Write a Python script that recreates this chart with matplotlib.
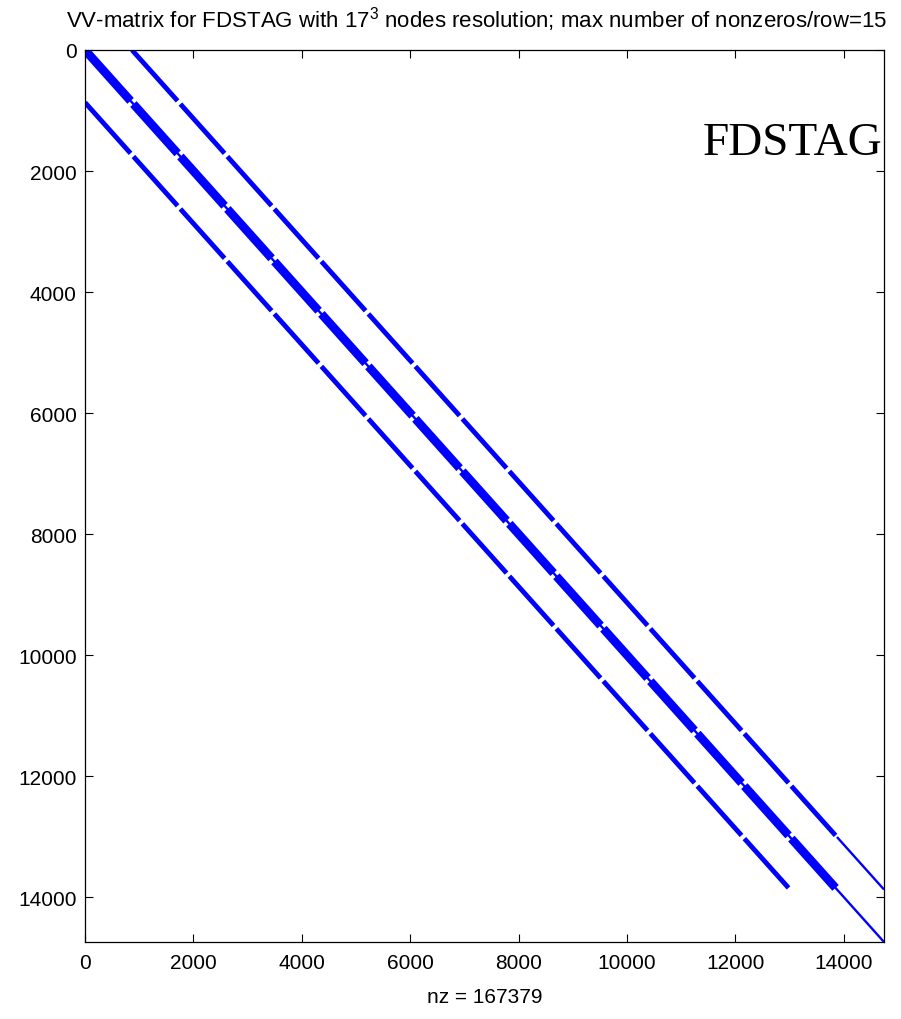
import matplotlib
matplotlib.use("Agg")
import matplotlib.pyplot as plt

# matrix size and row indices where each z-plane of the grid begins
n_rows = 14739
plane_rows = [0, 867, 1734, 2601, 3468, 4335, 5202, 6069, 6936, 7803,
              8670, 9537, 10404, 11271, 12138, 13005, 13872, 14739]

# the three coupled bands: column offset, first/last row of the dense part,
# and the drawn thickness (points) of each band
band_offset = [-867, 0, 867]
band_first = [867, 0, 0]
band_last = [13872, 13872, 13005]
band_width = [3.5, 6.2, 3.5]

# sparse tails (only one entry per row)
tail_offset = [0, 867]
tail_first = [0, 13005]
tail_last = [14739, 13872]
tail_width = 1.7

gap_half = 26
nz_count = 167379

plt.rcParams["font.family"] = ["Liberation Sans", "DejaVu Sans"]
plt.rcParams["mathtext.fontset"] = "custom"
plt.rcParams["mathtext.rm"] = "Liberation Sans"
plt.rcParams["mathtext.it"] = "Liberation Sans"

fig = plt.figure(figsize=(9.01, 10.2), dpi=100)
ax = fig.add_axes([85 / 901, 1 - 943 / 1020, 799 / 901, 892 / 1020])

blue = (0, 0, 1)


def draw_strip(off, r0, r1, lw):
    ax.plot([r0 + off, r1 + off], [r0, r1], color=blue, lw=lw,
            solid_capstyle="butt", clip_on=True)


# thin tails first, dense bands drawn on top
for off, r0, r1 in zip(tail_offset, tail_first, tail_last):
    draw_strip(off, r0, r1, tail_width)

for off, first, last, w in zip(band_offset, band_first, band_last, band_width):
    bounds = [r for r in plane_rows if first <= r <= last]
    for i in range(len(bounds) - 1):
        r0 = bounds[i] + (gap_half if i > 0 else 0)
        r1 = bounds[i + 1] - gap_half
        draw_strip(off, r0, r1, w)

ax.set_xlim(0, n_rows + 1)
ax.set_ylim(n_rows + 1, 0)
ax.set_xticks(range(0, 14001, 2000))
ax.set_yticks(range(0, 14001, 2000))
ax.tick_params(direction="in", length=6, width=0.8, labelsize=15,
               top=True, right=True, labeltop=False, labelright=False)
ax.tick_params(axis="x", pad=8)
ax.tick_params(axis="y", pad=6)
for s in ax.spines.values():
    s.set_linewidth(0.9)

ax.set_xlabel("nz = %d" % nz_count, fontsize=15, labelpad=11)
ax.set_title("VV-matrix for FDSTAG with 17$^3$ nodes resolution; "
             "max number of nonzeros/row=15",
             fontsize=16, pad=17, x=0.49)

ax.text(11400, 1720, "FDSTAG", family="Liberation Serif", fontsize=34,
        color="black", ha="left", va="baseline")

fig.savefig("out.png", dpi=100)
